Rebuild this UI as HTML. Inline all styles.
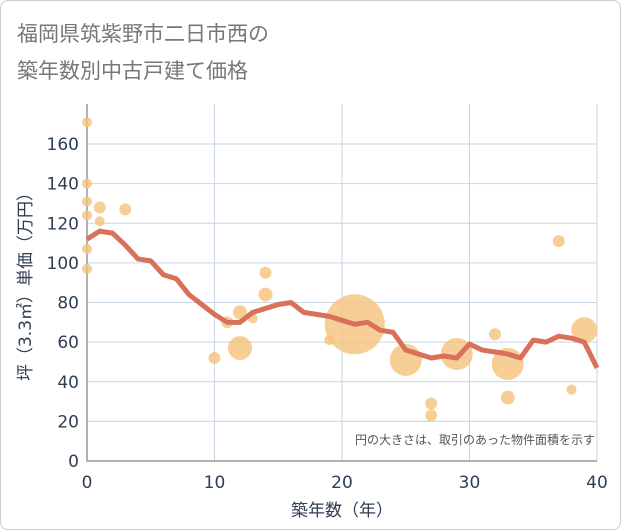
<!DOCTYPE html>
<html><head><meta charset="utf-8"><style>
body{margin:0;background:#fff;font-family:"Liberation Sans","Noto Sans CJK JP",sans-serif}
#wrap{position:relative;width:619px;height:528px;border:1px solid #ccc;border-radius:8px;overflow:hidden}
</style></head><body>
<div id="wrap">
<svg id="c" width="619" height="528">
<text x="16" y="40" font-size="21" fill="#777" font-family="DejaVu Sans, Noto Sans CJK JP, sans-serif">福岡県筑紫野市二日市西の</text>
<text x="16" y="77" font-size="21" fill="#777" font-family="DejaVu Sans, Noto Sans CJK JP, sans-serif">築年数別中古戸建て価格</text>
</svg></div>
<script>
const lineYears=[0,1,2,3,4,5,6,7,8,9,10,11,12,13,14,15,16,17,18,19,20,21,22,23,24,25,26,27,28,29,30,31,32,33,34,35,36,37,38,39,40];
const lineValues=[112,116,115,109,102,101,94,92,84,79,74,70,70,75,77,79,80,75,74,73,71,69,70,66,65,56,54,52,53,52,59,56,55,54,52,61,60,63,62,60,47];
const bubbleX=[0,0,0,0,0,0,1,1,3,10,11,12,12,13,14,14,19,21,25,27,27,29,32,33,33,37,38,39];
const bubbleY=[171,140,131,124,107,97,128,121,127,52,70,75,57,72,95,84,61,69,51,29,23,54,64,49,32,111,36,66];
const bubbleR=[5,5,5,5,5,5,6,5,6,6,6,7,12,5,6,7,5,30,16,6,6,16,6,16,7,6,5,13];
const xTicks=[0,10,20,30,40];
const yTicks=[0,20,40,60,80,100,120,140,160];
const NS="http://www.w3.org/2000/svg";
const svg=document.getElementById('c');
const L=86,R=596,T=103,B=460;
const sx=v=>L+(v/40)*(R-L);
const sy=v=>B-v*(B-143)/160;
const TF='DejaVu Sans, sans-serif';
function mk(t,a){const e=document.createElementNS(NS,t);for(const k in a)e.setAttribute(k,a[k]);svg.appendChild(e);return e;}
yTicks.forEach(v=>{
 const g=mk('line',{x1:L,x2:R,y1:sy(v),y2:sy(v),stroke:'#c9d6e6','stroke-width':1});
 
 
 const t=mk('text',{x:L-8,y:sy(v)+6,'text-anchor':'end','font-size':17,fill:'#2f3e50','font-family':TF});
 t.textContent=v;
 
 
});
xTicks.forEach(v=>{
 const g=mk('line',{x1:sx(v),x2:sx(v),y1:T,y2:B,stroke:'#c9d6e6','stroke-width':1});
 
 
 const t=mk('text',{x:sx(v),y:B+27,'text-anchor':'middle','font-size':17,fill:'#2f3e50','font-family':TF});
 t.textContent=v;
 
 
});
const ax=mk('path',{d:`M${L} ${T}V${B}H${R}`,fill:'none',stroke:'#999','stroke-width':1.5});


bubbleX.forEach((x,i)=>{
 const c=mk('circle',{cx:sx(x),cy:sy(bubbleY[i]),r:bubbleR[i],fill:'#f5c27a','fill-opacity':0.8});
 
 
});
const p=mk('polyline',{points:lineYears.map((x,i)=>sx(x)+','+sy(lineValues[i])).join(' '),fill:'none',stroke:'#d9705a','stroke-width':5,'stroke-linejoin':'round'});


const n=mk('text',{x:R-2,y:443,'text-anchor':'end','font-size':12,fill:'#555'});
n.textContent='円の大きさは、取引のあった物件面積を示す';


const xt=mk('text',{x:(L+R)/2,y:515,'text-anchor':'middle','font-size':17,fill:'#2f3e50','font-family':'DejaVu Sans, Noto Sans CJK JP, sans-serif'});
xt.textContent='築年数（年）';


const yt=mk('text',{x:0,y:0,'text-anchor':'middle','font-size':17,fill:'#2f3e50','font-family':'DejaVu Sans, Noto Sans CJK JP, sans-serif',transform:`translate(30,${(T+B)/2}) rotate(-90)`});
yt.textContent='坪（3.3㎡）単価（万円）';


</script>
</body></html>
